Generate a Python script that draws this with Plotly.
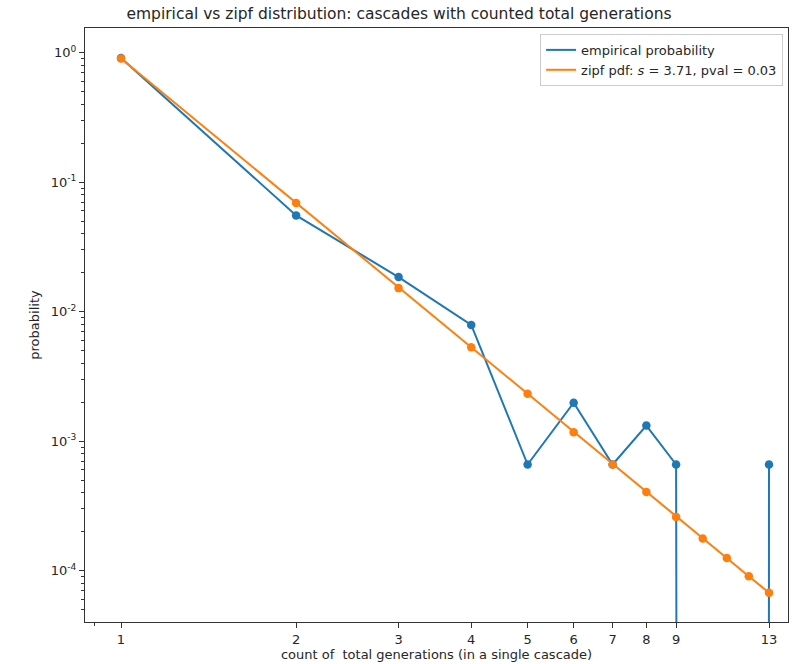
import numpy as np
import plotly.graph_objects as go

generations = [1, 2, 3, 4, 5, 6, 7, 8, 9, 10, 11, 12, 13]
empirical_prob = [0.912, 0.0554, 0.0185, 0.0079, 0.00066, 0.00198, 0.00066, 0.00132, 0.00066, 0.0, 0.0, 0.0, 0.00066]
zipf_prob = [0.904, 0.0692, 0.0152, 0.0053, 0.00232, 0.00117, 0.00066, 0.000405, 0.00026, 0.000177, 0.000125, 0.0000906, 0.0000674]
x_tick_vals = [1, 2, 3, 4, 5, 6, 7, 8, 9, 13]
y_tick_exps = [-4, -3, -2, -1, 0]

BLUE = "#1f77b4"
ORANGE = "#ff7f0e"
FONT = "DejaVu Sans"
TXT = "#262626"

# emulate log-scale clipping of non-positive values (drawn far below the axis)
emp_plot = [v if v > 0 else 1e-300 for v in empirical_prob]

fig = go.Figure()
for ys, name, color in [(emp_plot, "empirical probability", BLUE),
                        (zipf_prob, "zipf pdf: <i>s</i> = 3.71, pval = 0.03", ORANGE)]:
    fig.add_trace(go.Scatter(
        x=generations, y=ys, mode="lines", name=name,
        line=dict(color=color, width=2),
    ))
    fig.add_trace(go.Scatter(
        x=generations, y=ys, mode="markers", name=name, showlegend=False,
        marker=dict(color=color, size=8.5),
    ))

y_minor = [m * 10.0 ** e for e in range(-5, 1) for m in range(2, 10)]

fig.update_layout(
    width=798, height=664,
    margin=dict(l=85, r=10, t=28, b=42),
    paper_bgcolor="white", plot_bgcolor="white",
    font=dict(family=FONT, size=13, color=TXT),
    title=dict(text="empirical vs zipf distribution: cascades with counted total generations",
               x=0.5, xanchor="center", y=1 - 14 / 664, yanchor="middle",
               font=dict(size=15.5, family=FONT, color=TXT)),
    showlegend=True,
    legend=dict(x=0.993, y=0.99, xanchor="right", yanchor="top",
                bgcolor="rgba(255,255,255,0.8)", bordercolor="#cccccc", borderwidth=1,
                font=dict(size=13, family=FONT, color=TXT), itemwidth=30, tracegroupgap=0),
    xaxis=dict(
        type="log", range=[-0.0619, 1.1466], automargin=False,
        tickvals=x_tick_vals, ticktext=[str(v) for v in x_tick_vals],
        ticks="outside", ticklen=5, tickwidth=1, tickcolor="#333",
        ticklabelstandoff=0,
        showgrid=False, zeroline=False,
        showline=True, linecolor="#333", linewidth=1, mirror=True,
        minor=dict(tickvals=[0.9], ticks="outside", ticklen=3, tickcolor="#333", showgrid=False),
        title=dict(text="count of  total generations (in a single cascade)", standoff=3,
                   font=dict(size=13, family=FONT, color=TXT)),
        tickfont=dict(size=13, family=FONT, color=TXT),
    ),
    yaxis=dict(
        type="log", range=[-4.397, 0.191], automargin=False,
        tickvals=[10.0 ** e for e in y_tick_exps],
        ticktext=["10<sup>%d</sup>" % e for e in y_tick_exps],
        ticks="outside", ticklen=5, tickwidth=1, tickcolor="#333",
        showgrid=False, zeroline=False,
        showline=True, linecolor="#333", linewidth=1, mirror=True,
        minor=dict(tickvals=y_minor, ticks="outside", ticklen=3, tickcolor="#333", showgrid=False),
        title=dict(text="probability", standoff=8, font=dict(size=13, family=FONT, color=TXT)),
        tickfont=dict(size=13, family=FONT, color=TXT),
    ),
)

fig.write_html("out.html")
